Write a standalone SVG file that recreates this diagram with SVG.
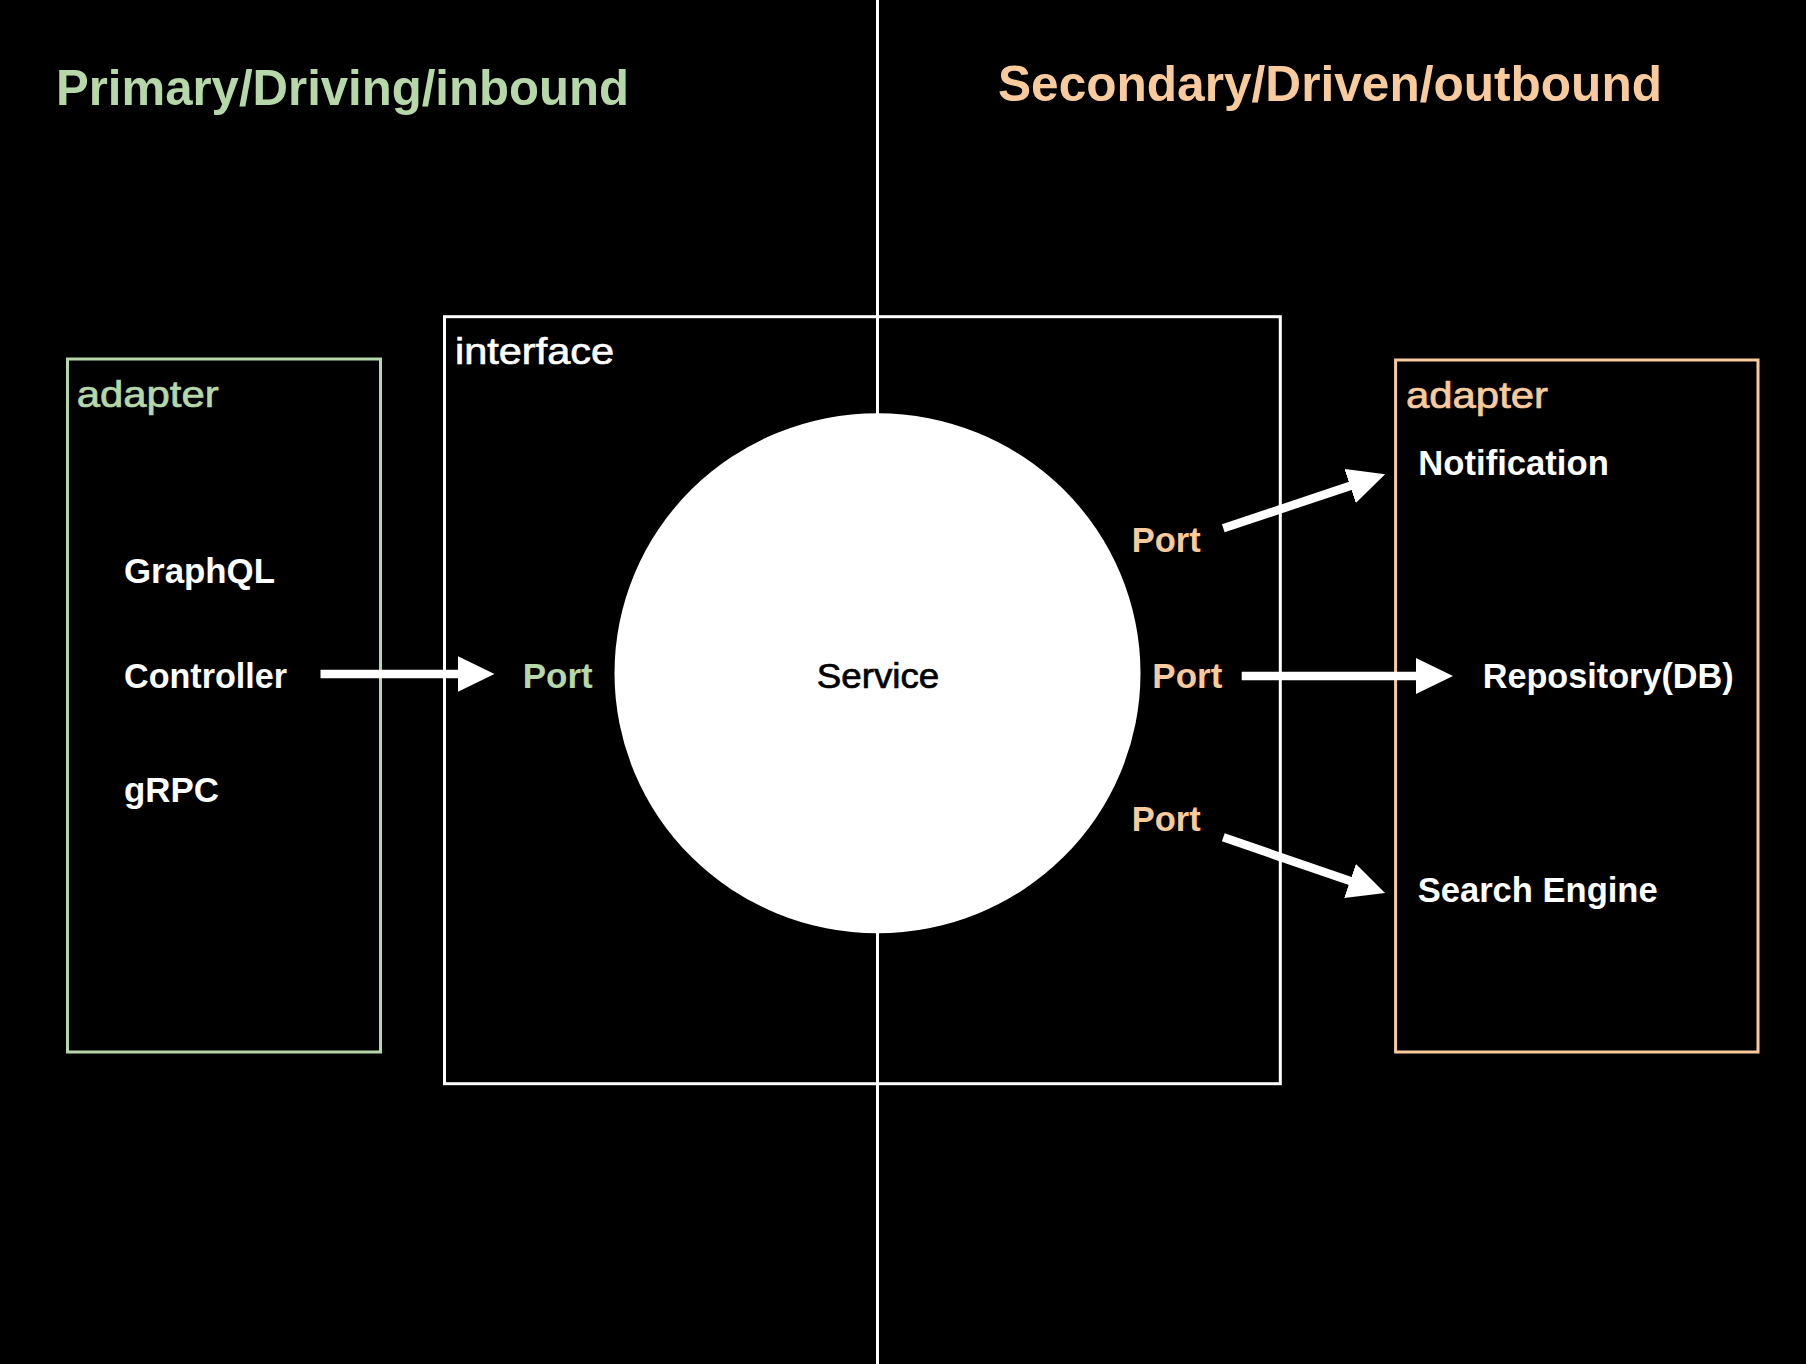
<svg xmlns="http://www.w3.org/2000/svg" width="1806" height="1364" viewBox="0 0 1806 1364">
<defs>
<style>
.t{font-family:"Liberation Sans",Arial,Helvetica,sans-serif}
.b{font-weight:bold;font-size:35px}
.h{font-weight:bold;font-size:50px}
.r{font-size:37px;stroke-width:0.7px}
.g{fill:#b6d7a8}
.o{fill:#f9cb9c}
.w{fill:#ffffff}
.r.g{stroke:#b6d7a8}
.r.o{stroke:#f9cb9c}
.r.w{stroke:#ffffff}
.box{fill:none;stroke-width:3}
.arr{stroke:#ffffff;stroke-width:8.5;fill:none;marker-end:url(#ah)}
</style>
<marker id="ah" markerUnits="userSpaceOnUse" markerWidth="38" markerHeight="36" refX="1" refY="18" orient="auto" viewBox="0 0 38 36">
<path d="M0,0 L37,18 L0,36 Z" fill="#ffffff"/>
</marker>
</defs>
<rect x="0" y="0" width="1806" height="1364" fill="#000000"/>

<g id="divider">
<line x1="877.5" y1="0" x2="877.5" y2="1364" stroke="#ffffff" stroke-width="3"/>
</g>

<g id="title-primary">
<text class="t h g" x="56" y="105" textLength="573" lengthAdjust="spacingAndGlyphs">Primary/Driving/inbound</text>
</g>
<g id="title-secondary">
<text class="t h o" x="998" y="100.5" textLength="664" lengthAdjust="spacingAndGlyphs">Secondary/Driven/outbound</text>
</g>

<g id="primary-adapter">
<rect class="box" x="67.5" y="359" width="313" height="693" stroke="#b6d7a8"/>
<text class="t r g" x="76.7" y="407" textLength="142" lengthAdjust="spacingAndGlyphs">adapter</text>
<text class="t b w" x="124" y="582.5" textLength="151" lengthAdjust="spacingAndGlyphs">GraphQL</text>
<text class="t b w" x="124" y="688.3" textLength="163" lengthAdjust="spacingAndGlyphs">Controller</text>
<text class="t b w" x="124" y="801.7" textLength="95" lengthAdjust="spacingAndGlyphs">gRPC</text>
</g>

<g id="interface">
<rect class="box" x="444.5" y="316.7" width="835.8" height="767" stroke="#ffffff"/>
<text class="t r w" x="455" y="364" textLength="159" lengthAdjust="spacingAndGlyphs">interface</text>
</g>

<g id="service">
<ellipse cx="877.5" cy="673.2" rx="263" ry="260" fill="#ffffff"/>
<text class="t" x="816.7" y="688" font-size="35" fill="#000000" stroke="#000000" stroke-width="0.7" textLength="122.6" lengthAdjust="spacingAndGlyphs">Service</text>
</g>

<g id="port-in">
<text class="t b g" x="522.7" y="688.3" textLength="70" lengthAdjust="spacingAndGlyphs">Port</text>
</g>
<g id="port-out-1">
<text class="t b o" x="1131.7" y="551.7" textLength="69" lengthAdjust="spacingAndGlyphs">Port</text>
</g>
<g id="port-out-2">
<text class="t b o" x="1152.3" y="688.3" textLength="70" lengthAdjust="spacingAndGlyphs">Port</text>
</g>
<g id="port-out-3">
<text class="t b o" x="1131.7" y="831" textLength="69" lengthAdjust="spacingAndGlyphs">Port</text>
</g>

<g id="secondary-adapter">
<rect class="box" x="1395.6" y="360" width="362.4" height="692" stroke="#f9cb9c"/>
<text class="t r o" x="1406" y="408" textLength="142" lengthAdjust="spacingAndGlyphs">adapter</text>
<text class="t b w" x="1418.3" y="475" textLength="190.5" lengthAdjust="spacingAndGlyphs">Notification</text>
<text class="t b w" x="1482.7" y="688.3" textLength="251" lengthAdjust="spacingAndGlyphs">Repository(DB)</text>
<text class="t b w" x="1417.7" y="901.7" textLength="240" lengthAdjust="spacingAndGlyphs">Search Engine</text>
</g>

<g id="connectors">
<line class="arr" x1="320.5" y1="674" x2="458.5" y2="674"/>
<line class="arr" x1="1241.7" y1="676" x2="1417" y2="676"/>
<line class="arr" x1="1223.3" y1="528.3" x2="1351" y2="485.6"/>
<line class="arr" x1="1223.3" y1="837.3" x2="1351" y2="881.3"/>
</g>
</svg>
